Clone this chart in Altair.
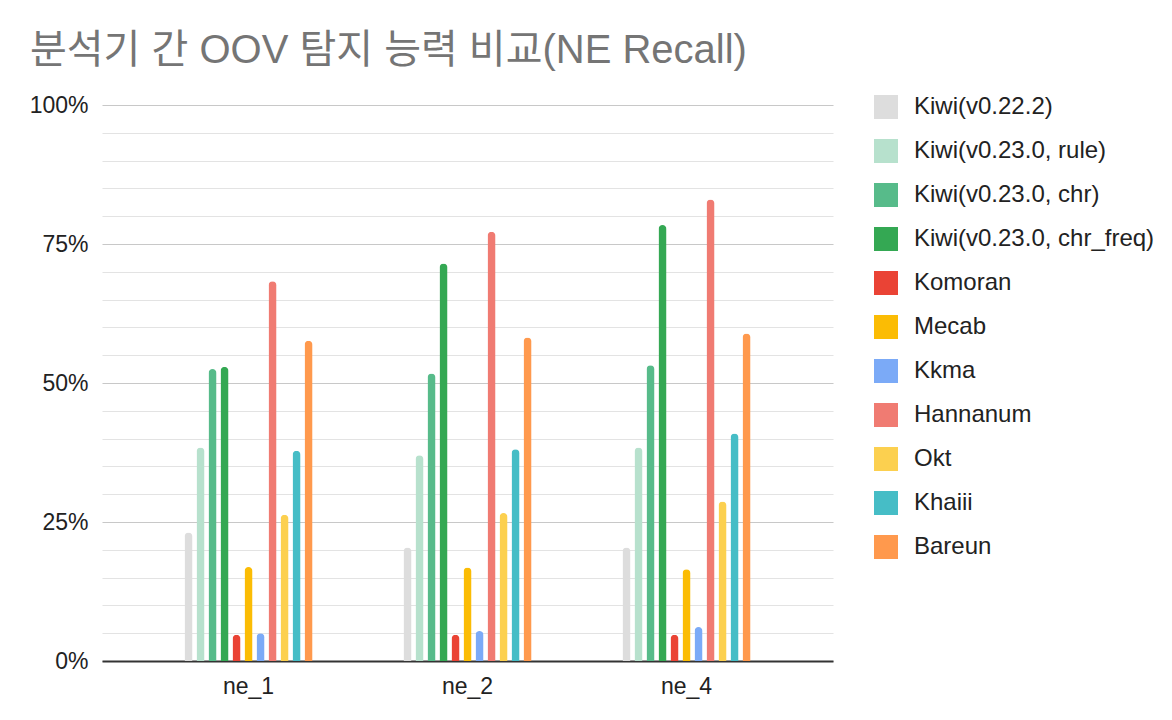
import altair as alt
import pandas as pd

categories = ["ne_1", "ne_2", "ne_4"]
series = [
    "Kiwi(v0.22.2)",
    "Kiwi(v0.23.0, rule)",
    "Kiwi(v0.23.0, chr)",
    "Kiwi(v0.23.0, chr_freq)",
    "Komoran",
    "Mecab",
    "Kkma",
    "Hannanum",
    "Okt",
    "Khaiii",
    "Bareun",
]
colors = ["#dddddd", "#b7e1cd", "#57bb8a", "#34a853", "#ea4335", "#fbbc04",
          "#7baaf7", "#f07b72", "#fcd04f", "#46bdc6", "#ff994d"]

kiwi_0222 = [0.231, 0.204, 0.204]
kiwi_rule = [0.384, 0.370, 0.384]
kiwi_chr = [0.525, 0.517, 0.532]
kiwi_chr_freq = [0.529, 0.715, 0.784]
komoran = [0.047, 0.047, 0.047]
mecab = [0.169, 0.168, 0.165]
kkma = [0.050, 0.054, 0.061]
hannanum = [0.683, 0.772, 0.830]
okt = [0.263, 0.266, 0.287]
khaiii = [0.378, 0.381, 0.409]
bareun = [0.576, 0.582, 0.589]

all_values = [kiwi_0222, kiwi_rule, kiwi_chr, kiwi_chr_freq, komoran, mecab,
              kkma, hannanum, okt, khaiii, bareun]

y_ticks = [round(i * 0.05, 2) for i in range(21)]

rows = []
for s, vals in zip(series, all_values):
    for c, v in zip(categories, vals):
        rows.append({"category": c, "series": s, "value": v})
df = pd.DataFrame(rows)

FONT = "Liberation Sans, Arial, Noto Sans CJK KR"
MAJOR = "round(datum.value*100) % 25 === 0"

chart = alt.Chart(df).mark_bar(
    cornerRadiusTopLeft=4, cornerRadiusTopRight=4
).encode(
    x=alt.X("category:N", sort=categories, title=None,
            scale=alt.Scale(paddingInner=0.397, paddingOuter=0.3675),
            axis=alt.Axis(labelAngle=0, ticks=False, domainColor="#333333",
                          domainWidth=2, labelFontSize=23, labelColor="#222222",
                          labelPadding=14, labelFont=FONT, grid=False)),
    xOffset=alt.XOffset("series:N", sort=series,
                        scale=alt.Scale(paddingInner=0.333, paddingOuter=0.1667)),
    y=alt.Y("value:Q", title=None,
            scale=alt.Scale(domain=[0, 1], nice=False),
            axis=alt.Axis(values=y_ticks, ticks=False, domain=False,
                          labelExpr="(" + MAJOR + ") ? format(datum.value, '.0%') : ''",
                          labelFontSize=23, labelColor="#222222", labelPadding=14,
                          labelFont=FONT,
                          gridColor={"condition": {"test": MAJOR, "value": "#c8c8c8"},
                                     "value": "#e3e3e3"},
                          gridWidth=1.2)),
    color=alt.Color("series:N", sort=series,
                    scale=alt.Scale(domain=series, range=colors),
                    legend=alt.Legend(title=None, orient="none", legendX=772, legendY=-10,
                                      symbolType="square", symbolSize=576,
                                      symbolStrokeWidth=0, symbolOpacity=1,
                                      labelFontSize=24, labelColor="#222222",
                                      labelFont=FONT, labelLimit=400,
                                      rowPadding=20, labelOffset=16, padding=0)),
).properties(
    width=731,
    height=556,
    title=alt.TitleParams(
        text="분석기 간 OOV 탐지 능력 비교(NE Recall)",
        anchor="start", frame="group", fontSize=40, color="#757575",
        font=FONT, fontWeight="normal", baseline="alphabetic",
        offset=42, dx=-72, dy=51,
    ),
    autosize=alt.AutoSizeParams(type="none"),
    padding={"left": 94, "top": 97, "right": 331, "bottom": 51},
).configure_view(stroke=None)

chart.save("out.html", embed_options={"renderer": "svg", "actions": False})
